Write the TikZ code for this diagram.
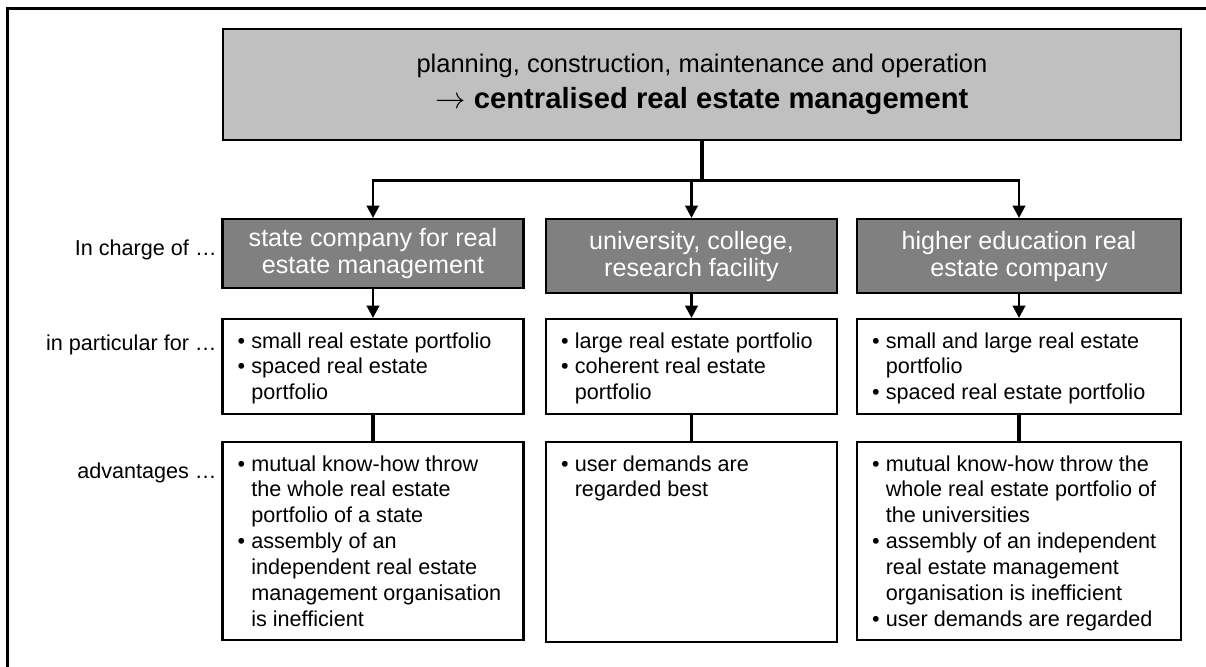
\documentclass[tikz,border=0pt]{standalone}
\usepackage{fontspec}
\setmainfont{Liberation Sans}
\usetikzlibrary{arrows.meta,positioning}
\definecolor{panel}{HTML}{C0C0C0}
\definecolor{slate}{HTML}{808080}
\newcommand{\bitem}{\textbullet\ }
\newcommand{\bcont}{\hphantom{\textbullet\ }}
\tikzset{>={Triangle[width=7pt,length=7pt]},
  headbox/.style={draw,line width=1.3pt,fill=panel,minimum width=19.17cm,minimum height=2.21cm,align=center,font=\fontsize{14.5}{20.5}\selectfont},
  kindbox/.style={draw,line width=1.3pt,fill=slate,text=white,anchor=north,align=center,font=\fontsize{14.3}{15.4}\selectfont},
  listbox/.style={draw,line width=1.3pt,fill=white,anchor=north},
  listtext/.style={anchor=north west,align=left,inner xsep=.32cm,inner ysep=.28cm,font=\fontsize{12.3}{14.7}\selectfont},
  rowlabel/.style={anchor=east,inner sep=0pt,font=\fontsize{12.3}{14.7}\selectfont},
  arr/.style={->,line width=1.6pt},
  link/.style={line width=2pt}}

\begin{document}
\begin{tikzpicture}
\useasboundingbox (0,0) rectangle (24.12,13.34);
\draw[line width=1.7pt] (0.154,0) -- (0.154,13.17) -- (24.12,13.17);

\node[headbox] (head) at (14.04,11.65) {planning, construction, maintenance and operation\\
  {\fontsize{16.6}{20.5}\selectfont$\rightarrow$ \textbf{centralised real estate management}}};

% who is in charge
\node[kindbox,minimum width=6.02cm,minimum height=1.38cm] (state) at (7.46,8.98) {state company for real\\estate management};
\node[kindbox,minimum width=5.82cm,minimum height=1.48cm] (univ) at (13.83,8.98) {university, college,\\research facility};
\node[kindbox,minimum width=6.48cm,minimum height=1.48cm] (hecomp) at (20.38,8.98) {higher education real\\estate company};

% portfolios
\node[listbox,minimum width=6.02cm,minimum height=1.9cm] (pfstate) at (7.46,6.98) {};
\node[listbox,minimum width=5.82cm,minimum height=1.9cm] (pfuniv) at (13.83,6.98) {};
\node[listbox,minimum width=6.48cm,minimum height=1.9cm] (pfhe) at (20.38,6.98) {};
\node[listtext] (pfstatetx) at (pfstate.north west) {\bitem small real estate portfolio\\\bitem spaced real estate\\\bcont portfolio};
\node[listtext] (pfunivtx) at (pfuniv.north west) {\bitem large real estate portfolio\\\bitem coherent real estate\\\bcont portfolio};
\node[listtext] (pfhetx) at (pfhe.north west) {\bitem small and large real estate\\\bcont portfolio\\\bitem spaced real estate portfolio};

% advantages
\node[listbox,minimum width=6.02cm,minimum height=3.96cm] (advstate) at (7.46,4.52) {};
\node[listbox,minimum width=5.82cm,minimum height=4cm] (advuniv) at (13.83,4.52) {};
\node[listbox,minimum width=6.48cm,minimum height=3.96cm] (advhe) at (20.38,4.52) {};
\node[listtext] (advstatetx) at (advstate.north west) {\bitem mutual know-how throw\\\bcont the whole real estate\\\bcont portfolio of a state\\\bitem assembly of an\\\bcont independent real estate\\\bcont management organisation\\\bcont is inefficient};
\node[listtext] (advunivtx) at (advuniv.north west) {\bitem user demands are\\\bcont regarded best};
\node[listtext] (advhetx) at (advhe.north west) {\bitem mutual know-how throw the\\\bcont whole real estate portfolio of\\\bcont the universities\\\bitem assembly of an independent\\\bcont real estate management\\\bcont organisation is inefficient\\\bitem user demands are regarded};

\node[rowlabel] (lcharge) at (4.34,8.34) {In charge of \dots};
\node[rowlabel] (lfor) at (4.34,6.44) {in particular for \dots};
\node[rowlabel] (ladv) at (4.34,3.88) {advantages \dots};

\draw[line width=2.4pt] (head.south) -- ++(0,-0.8) coordinate (split);
\foreach \b in {state,univ,hecomp}{\draw[arr] (split) -| (\b.north);}
\foreach \a/\b in {state/pfstate,univ/pfuniv,hecomp/pfhe}{\draw[arr] (\a) -- (\b);}
\foreach \a/\b in {pfstate/advstate,pfuniv/advuniv,pfhe/advhe}{\draw[link] (\a) -- (\b);}
\end{tikzpicture}
\end{document}
